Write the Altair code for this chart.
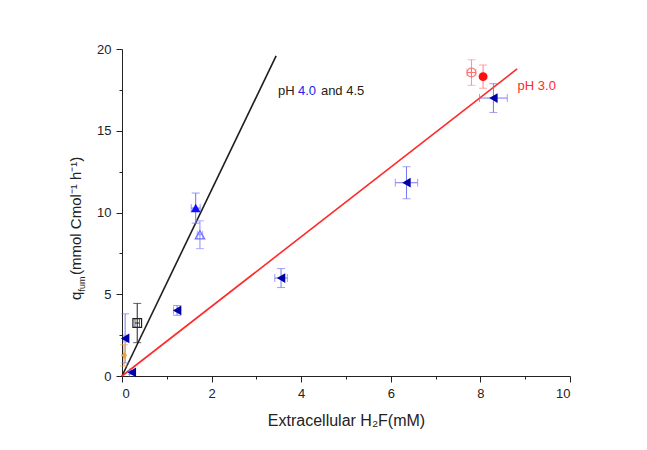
import altair as alt
import pandas as pd

# Measured points: fumarate uptake rate vs extracellular H2F
pt_series = ["L", "L", "L", "L", "L", "L", "Uf", "Uo", "Sq", "Or", "Rf", "Rx"]
pt_x = [0.07, 0.22, 1.23, 3.55, 6.35, 8.29, 1.645, 1.74, 0.34, 0.045, 8.06, 7.80]
pt_y = [2.30, 0.22, 4.01, 5.99, 11.82, 17.00, 10.27, 8.64, 3.24, 1.26, 18.31, 18.56]
pt_xerr = [0.03, 0.05, 0.08, 0.14, 0.25, 0.31, 0.10, 0.06, 0.05, 0.0, 0.0, 0.10]
pt_yerr = [1.50, 0.12, 0.30, 0.58, 0.98, 0.88, 0.92, 0.85, 1.20, 0.65, 0.71, 0.78]

# Linear fits through the origin (start and end of each line)
fit_x_46 = [0.0, 3.44]
fit_y_46 = [0.0, 19.58]
fit_x_30 = [0.0, 8.82]
fit_y_30 = [0.0, 18.78]

x_ticks = [0, 2, 4, 6, 8, 10]
x_minor = [1, 3, 5, 7, 9]
y_ticks = [0, 5, 10, 15, 20]
y_minor = [2.5, 7.5, 12.5, 17.5]

FONT = "Liberation Sans"
INK = "#222222"

# error-bar colour per series
err_colors = {"L": "#7878f0", "Uf": "#6f6fff", "Uo": "#8c8cff", "Sq": "#222222",
              "Or": "#f0a040", "Rf": "#ff8080", "Rx": "#ff9090"}

df = pd.DataFrame({"series": pt_series, "x": pt_x, "y": pt_y,
                   "xerr": pt_xerr, "yerr": pt_yerr})
df["ymin"] = df["y"] - df["yerr"]
df["ymax"] = df["y"] + df["yerr"]
df["xmin"] = df["x"] - df["xerr"]
df["xmax"] = df["x"] + df["xerr"]
df["ecol"] = df["series"].map(err_colors)

xs = alt.Scale(domain=[0, 10], nice=False, zero=False)
ys = alt.Scale(domain=[0, 20], nice=False, zero=False)

xaxis = alt.Axis(values=x_ticks, grid=False, tickSize=6, labelPadding=5,
                 labelFont=FONT, labelFontSize=13, labelColor=INK,
                 domainColor=INK, tickColor=INK,
                 title="Extracellular H₂F(mM)", titleFont=FONT, titleFontSize=16,
                 titleFontWeight="normal", titleColor=INK,
                 titleY=49, titleBaseline="alphabetic")
yaxis = alt.Axis(values=y_ticks, grid=False, tickSize=6, labelPadding=5,
                 labelFont=FONT, labelFontSize=13, labelColor=INK,
                 domainColor=INK, tickColor=INK, title=None)


def X(field):
    return alt.X(field, type="quantitative", scale=xs, axis=xaxis)


def Y(field):
    return alt.Y(field, type="quantitative", scale=ys, axis=yaxis)


err_color = alt.Color("ecol:N", scale=None)

base = alt.Chart(df)

# vertical error bars with caps
v_bar = base.mark_rule(strokeWidth=1).encode(x=X("x"), y=Y("ymin"), y2="ymax", color=err_color)
v_lo = base.mark_tick(orient="horizontal", size=8, thickness=1).encode(x=X("x"), y=Y("ymin"), color=err_color)
v_hi = base.mark_tick(orient="horizontal", size=8, thickness=1).encode(x=X("x"), y=Y("ymax"), color=err_color)

# horizontal error bars with caps
hb = base.transform_filter("datum.xerr > 0")
h_bar = hb.mark_rule(strokeWidth=1).encode(x=X("xmin"), x2="xmax", y=Y("y"), color=err_color)
h_lo = hb.mark_tick(orient="vertical", size=8, thickness=1).encode(x=X("xmin"), y=Y("y"), color=err_color)
h_hi = hb.mark_tick(orient="vertical", size=8, thickness=1).encode(x=X("xmax"), y=Y("y"), color=err_color)

# fitted lines
fit_46 = alt.Chart(pd.DataFrame({"x": fit_x_46, "y": fit_y_46})).mark_line(
    strokeWidth=1.6, color="#1e1e1e").encode(x=X("x"), y=Y("y"))
fit_30 = alt.Chart(pd.DataFrame({"x": fit_x_30, "y": fit_y_30})).mark_line(
    strokeWidth=1.6, color="#ff2a2a").encode(x=X("x"), y=Y("y"))


def markers(series, **mark):
    return base.transform_filter(alt.datum.series == series).mark_point(**mark).encode(
        x=X("x"), y=Y("y"))


circle_plus = "M-1,0A1,1 0 1,0 1,0A1,1 0 1,0 -1,0Z M-1,0L1,0 M0,-1L0,1"

pts = [
    markers("L", shape="triangle-left", filled=True, color="#0000a8", size=95, opacity=1),
    markers("Uf", shape="triangle-up", filled=True, color="#1010ff", size=95, opacity=1),
    markers("Uo", shape="triangle-up", filled=False, color="#6f6fff", size=90, strokeWidth=1.2, opacity=1),
    markers("Sq", shape="square", filled=False, color="#222222", size=75, strokeWidth=1.2, opacity=1),
    markers("Or", shape="cross", filled=True, color="#f0a040", size=30, opacity=1),
    markers("Rf", shape="circle", filled=True, color="#ff1010", size=80, opacity=1),
    markers("Rx", shape=circle_plus, filled=False, color="#ff7070", size=80, strokeWidth=1.1, opacity=1),
]

# curve annotations
ann = pd.DataFrame({"x": [3.48], "y": [17.18]})
ann_r = pd.DataFrame({"x": [8.83], "y": [17.48]})
txt = dict(font=FONT, fontSize=13, align="left", baseline="alphabetic")
lab_pH = alt.Chart(ann).mark_text(text="pH", color=INK, **txt).encode(x=X("x"), y=Y("y"))
lab_40 = alt.Chart(ann).mark_text(text="4.0", color="#2222ee", dx=20, **txt).encode(x=X("x"), y=Y("y"))
lab_and = alt.Chart(ann).mark_text(text="and 4.5", color=INK, dx=43, **txt).encode(x=X("x"), y=Y("y"))
lab_30 = alt.Chart(ann_r).mark_text(text="pH 3.0", color="#ff2a2a", **txt).encode(x=X("x"), y=Y("y"))

# y-axis title built from pieces: q, subscript "fum", units
one = pd.DataFrame({"k": [0]})
ytxt = dict(font=FONT, align="left", baseline="alphabetic", angle=270, color=INK)
yt_q = alt.Chart(one).mark_text(text="q", fontSize=15, **ytxt).encode(
    x=alt.value(-41), y=alt.value(251))
yt_sub = alt.Chart(one).mark_text(text="fum", fontSize=9, **ytxt).encode(
    x=alt.value(-37.5), y=alt.value(242.5))
yt_units = alt.Chart(one).mark_text(text="(mmol Cmol⁻¹ h⁻¹)", fontSize=15, **ytxt).encode(
    x=alt.value(-41), y=alt.value(226))

main = alt.layer(fit_46, fit_30, v_bar, v_lo, v_hi, h_bar, h_lo, h_hi, *pts,
                 lab_pH, lab_40, lab_and, lab_30, yt_q, yt_sub, yt_units)

# minor ticks on both axes
minor = alt.Chart(df).mark_point(opacity=0).encode(
    x=alt.X("x:Q", scale=xs, axis=alt.Axis(values=x_minor, labels=False, tickSize=3, domain=False,
                                            grid=False, title=None, orient="bottom", tickColor=INK)),
    y=alt.Y("y:Q", scale=ys, axis=alt.Axis(values=y_minor, labels=False, tickSize=3, domain=False,
                                            grid=False, title=None, orient="left", tickColor=INK)))

chart = alt.layer(main, minor).resolve_axis(x="independent", y="independent").properties(
    width=448, height=327,
    autosize=alt.AutoSizeParams(type="none"),
    padding={"left": 122, "top": 49, "right": 77, "bottom": 74},
    background="white",
).configure_view(stroke=None)

chart.save("out.html", embed_options={"renderer": "svg", "actions": False})
